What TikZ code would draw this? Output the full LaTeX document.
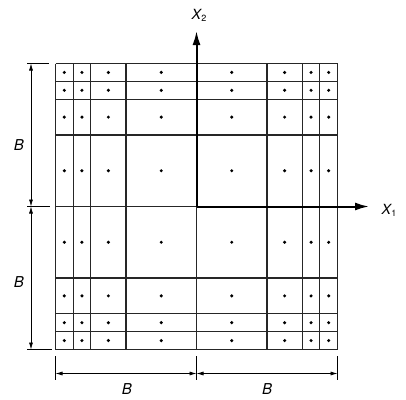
\documentclass[tikz,border=0pt]{standalone}
\usepackage{fontspec}
\setmainfont{TeX Gyre Heros}
\usetikzlibrary{arrows.meta}
\begin{document}
\begin{tikzpicture}[x=1pt,y=-1pt,
  gridline/.style={line width=1.1pt,black!85},
  axisline/.style={line width=2pt,-{Latex[length=14pt,width=8pt]}},
  dimline/.style={line width=0.7pt,{Latex[length=7pt,width=4pt]}-{Latex[length=7pt,width=4pt]}},
  extline/.style={line width=0.6pt},
  dot/.style={circle,fill=black,inner sep=0pt,minimum size=3.4pt},
  lab/.style={font=\fontsize{15}{17}\selectfont\itshape,inner sep=1pt},
  axlab/.style={font=\fontsize{14}{16}\selectfont,inner sep=1pt}]
\useasboundingbox (0,0) rectangle (406,399);
\def\cx{196.5}\def\cy{206.5}\def\bx{141}\def\by{143}
% grid
\foreach \f in {-1,-0.875,-0.75,-0.5,0,0.5,0.75,0.875,1} {
  \draw[gridline] ({\cx+\f*\bx},{\cy-\by}) -- ({\cx+\f*\bx},{\cy+\by});
  \draw[gridline] ({\cx-\bx},{\cy+\f*\by}) -- ({\cx+\bx},{\cy+\f*\by});
}
% dots
\foreach \a in {-0.9375,-0.8125,-0.625,-0.25,0.25,0.625,0.8125,0.9375} {
  \foreach \b in {-0.9375,-0.8125,-0.625,-0.25,0.25,0.625,0.8125,0.9375} {
    \node[dot] at ({\cx+\a*\bx},{\cy+\b*\by}) {};
  }
}
% axes
\coordinate (O) at (\cx,\cy);
\coordinate (x1end) at (369,\cy);
\coordinate (x2end) at (\cx,31);
\draw[axisline] (O) -- (x1end);
\draw[axisline] (O) -- (x2end);
\node[axlab] (x1) at (389,210) {\itshape X\kern0.5pt\raisebox{-0.25ex}{\upshape\fontsize{9}{10}\selectfont 1}};
\node[axlab] (x2) at (199,15) {\itshape X\kern0.5pt\raisebox{-0.25ex}{\upshape\fontsize{9}{10}\selectfont 2}};
% left dimension
\coordinate (Lt) at (31,{\cy-\by});
\coordinate (Lm) at (31,\cy);
\coordinate (Lb) at (31,{\cy+\by});
\draw[extline] (27,{\cy-\by}) -- (49,{\cy-\by});
\draw[extline] (27,\cy) -- (50,\cy);
\draw[extline] (27,{\cy+\by}) -- (52,{\cy+\by});
\draw[dimline] (Lt) -- (Lm);
\draw[dimline] (Lm) -- (Lb);
\node[lab] (bl1) at (19,145) {B};
\node[lab] (bl2) at (19,282) {B};
% bottom dimension
\coordinate (Bl) at ({\cx-\bx},373.5);
\coordinate (Bm) at (\cx,373.5);
\coordinate (Bb) at ({\cx+\bx},373.5);
\draw[extline] ({\cx-\bx},356) -- ({\cx-\bx},380);
\draw[extline] (\cx,356) -- (\cx,380);
\draw[extline] ({\cx+\bx},356) -- ({\cx+\bx},380);
\draw[dimline] (Bl) -- (Bm);
\draw[dimline] (Bm) -- (Bb);
\node[lab] (bb1) at (127,389.5) {B};
\node[lab] (bb2) at (267,389.5) {B};
\end{tikzpicture}
\end{document}
